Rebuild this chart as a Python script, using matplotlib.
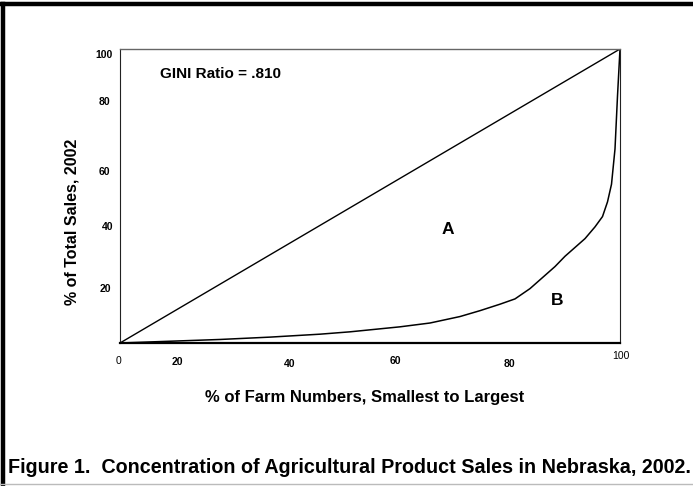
import numpy as np
import matplotlib.pyplot as plt
from matplotlib.lines import Line2D

# Lorenz curve
farms_pct = [0, 10, 20, 30, 40, 46, 56, 62, 68, 72, 76, 79, 82, 84, 87, 89, 91, 93, 95, 96.5, 97.5, 98.3, 99, 99.5, 100]
sales_pct = [0, 0.6, 1.2, 2.0, 3.0, 3.8, 5.5, 6.8, 9.0, 11.0, 13.2, 15.0, 18.5, 21.5, 26, 29.5, 32.5, 35.5, 39.5, 43, 48, 54, 66, 84, 100]
equality = [0, 100]

xtick_labels = ['0', '20', '40', '60', '80', '100']
ytick_labels = ['20', '40', '60', '80', '100']

W, H = 693, 486
fig = plt.figure(figsize=(W / 100, H / 100), dpi=100)
plt.rcParams['font.family'] = ['Liberation Sans', 'DejaVu Sans']


def px(x, y):
    return x / W, 1 - y / H


# axes box in pixels: left 120, right 620, top 49, bottom 343
ax = fig.add_axes([120 / W, 1 - 343 / H, 500 / W, 294 / H])
ax.set_xlim(0, 100)
ax.set_ylim(0, 100)
ax.plot(equality, equality, color='black', lw=1)
ax.plot(farms_pct, sales_pct, color='black', lw=1.1)
ax.set_xticks([])
ax.set_yticks([])
ax.spines['top'].set_color('#666666')
ax.spines['top'].set_linewidth(1)
ax.spines['right'].set_color('#222222')
ax.spines['left'].set_color('#222222')
ax.spines['bottom'].set_linewidth(1.6)

ax.text(8, 91.5, 'GINI Ratio = .810', fontsize=11, fontweight='bold', va='center')
ax.text(65.6, 38.5, 'A', fontsize=12.5, fontweight='bold', ha='center', va='center')
ax.text(87.4, 14.5, 'B', fontsize=12.5, fontweight='bold', ha='center', va='center')

# tick labels are placed by hand in the original
xtick_pos = [(119, 361), (177, 362), (290, 364), (395, 361), (509, 364), (621, 356)]
for lab, (x, y) in zip(xtick_labels, xtick_pos):
    w = 'normal' if lab in ('0', '100') else 'bold'
    fig.text(*px(x, y), lab, fontsize=7.5, fontweight=w, ha='center', va='center')

ytick_pos = [(111, 289), (113, 227), (110, 172), (110, 102), (113, 55)]
for lab, (x, y) in zip(ytick_labels, ytick_pos):
    fig.text(*px(x, y), lab, fontsize=7.5, fontweight='bold', ha='right', va='center')

fig.text(*px(72, 222), '% of Total Sales, 2002', fontsize=11.5, fontweight='bold',
         rotation=90, ha='center', va='center')
fig.text(*px(365, 397), '% of Farm Numbers, Smallest to Largest', fontsize=12,
         fontweight='bold', ha='center', va='center')
fig.text(*px(8, 467), 'Figure 1.  Concentration of Agricultural Product Sales in Nebraska, 2002.',
         fontsize=14.2, fontweight='bold', ha='left', va='center')

# page frame
fig.add_artist(Line2D([0, 1], [1 - 4 / H] * 2, color='black', lw=3.2))
fig.add_artist(Line2D([2.5 / W] * 2, [0, 1 - 4 / H], color='black', lw=3.2))
fig.add_artist(Line2D([0, 1], [1 - 484 / H] * 2, color='#bbbbbb', lw=1))

fig.savefig('out.png', dpi=100)
